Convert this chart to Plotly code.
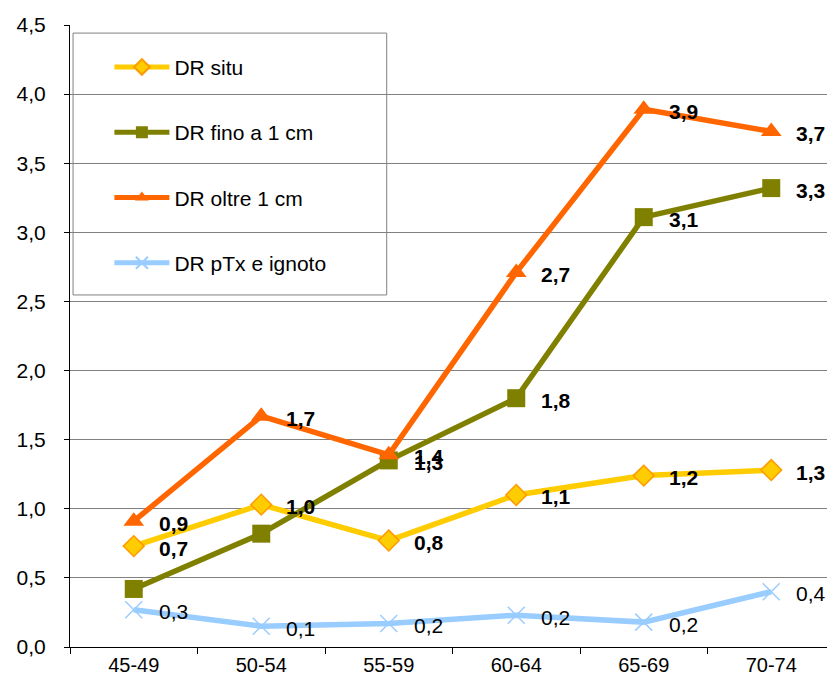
import plotly.graph_objects as go

categories = ["45-49", "50-54", "55-59", "60-64", "65-69", "70-74"]
situ = [0.73, 1.03, 0.77, 1.10, 1.24, 1.28]
fino = [0.42, 0.82, 1.35, 1.80, 3.11, 3.32]
oltre = [0.91, 1.67, 1.39, 2.71, 3.89, 3.73]
ptx = [0.27, 0.15, 0.17, 0.23, 0.18, 0.40]

situ_labels = ["0,7", "1,0", "0,8", "1,1", "1,2", "1,3"]
fino_labels = ["", "", "1,3", "1,8", "3,1", "3,3"]
oltre_labels = ["0,9", "1,7", "1,4", "2,7", "3,9", "3,7"]
ptx_labels = ["0,3", "0,1", "0,2", "0,2", "0,2", "0,4"]

FONT = "Liberation Sans, Arial, sans-serif"

series = [
    dict(name="DR situ", y=situ, labels=situ_labels, color="#FFCC00",
         marker=dict(symbol="diamond", size=16, color="#FFCC00", line=dict(color="#FF9900", width=1.5)), bold=True),
    dict(name="DR fino a 1 cm", y=fino, labels=fino_labels, color="#808000",
         marker=dict(symbol="square", size=18, color="#808000"), bold=True),
    dict(name="DR oltre 1 cm", y=oltre, labels=oltre_labels, color="#FF6600",
         marker=dict(symbol="triangle-up", size=18, color="#FF6600"), bold=True),
    dict(name="DR pTx e ignoto", y=ptx, labels=ptx_labels, color="#99CCFF",
         marker=dict(symbol="x-thin", size=17, color="#99CCFF", line=dict(color="#99CCFF", width=1.5)), bold=False),
]

fig = go.Figure()
annotations = []
for i, s in enumerate(series):
    fig.add_trace(go.Scatter(
        x=categories, y=s["y"], name=s["name"], mode="lines+markers",
        line=dict(color=s["color"], width=5.5),
        marker=s["marker"], legendgroup=f"g{i}",
    ))
    for c, v, t in zip(categories, s["y"], s["labels"]):
        if not t:
            continue
        annotations.append(dict(
            x=c, y=v, xref="x", yref="y", text=f"<b>{t}</b>" if s["bold"] else t,
            showarrow=False, xanchor="left", yanchor="middle", xshift=23, yshift=-2,
            font=dict(family=FONT, size=21, color="black"),
        ))

# page body has an 8px default margin; figure sized to fit the window
fig.update_layout(
    width=827, height=676,
    margin=dict(l=62, r=0, t=17, b=37),
    paper_bgcolor="white", plot_bgcolor="white",
    separators=",.",
    font=dict(family=FONT, size=20, color="black"),
    showlegend=True,
    legend=dict(
        x=0.0515, y=0.965, xanchor="left", yanchor="top",
        bgcolor="rgba(0,0,0,0)", borderwidth=0,
        font=dict(family=FONT, size=21, color="black"),
        traceorder="grouped", tracegroupgap=35, itemwidth=55, itemsizing="constant",
    ),
    annotations=annotations,
    shapes=[dict(type="rect", xref="paper", yref="paper",
                 x0=0.004, x1=0.414, y0=0.566, y1=0.987,
                 line=dict(color="#808080", width=1), fillcolor="white", layer="below")],
)
fig.update_xaxes(
    type="category", range=[-0.5, 5.5], showline=True, linecolor="black", linewidth=1,
    ticks="outside", tickson="boundaries", ticklen=6, tickcolor="black",
    showgrid=False, tickfont=dict(family=FONT, size=20), zeroline=False, automargin=False,
)
fig.update_yaxes(
    range=[0, 4.5], dtick=0.5, tickformat=".1f", showline=True, linecolor="black", linewidth=1,
    ticks="outside", ticklen=5, tickcolor="black", ticklabelstandoff=14,
    showgrid=True, gridcolor="#808080", gridwidth=1, zeroline=False, automargin=False,
    tickfont=dict(family=FONT, size=21),
)
fig.write_html("out.html")
